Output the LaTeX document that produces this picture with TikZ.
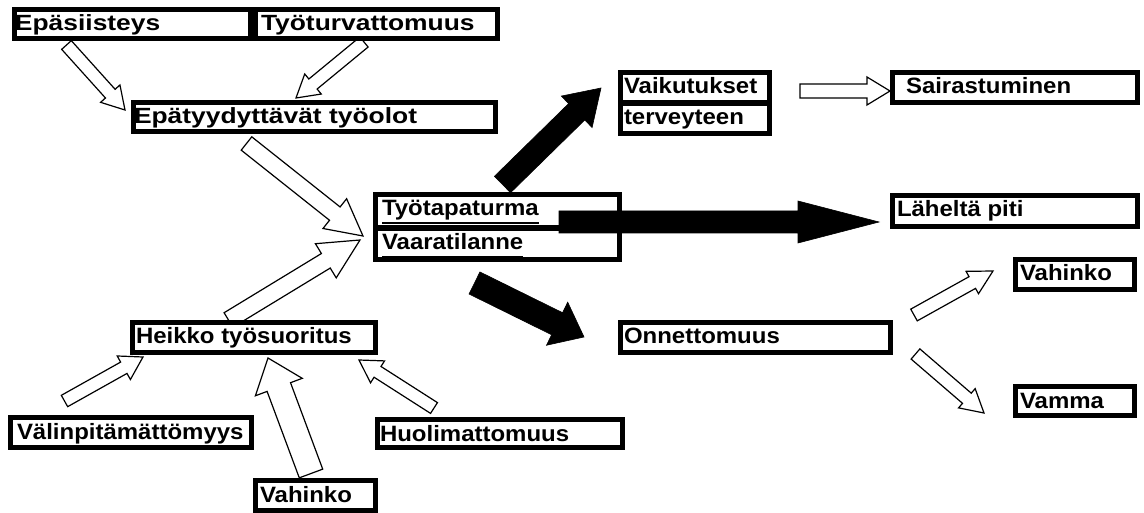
\documentclass[tikz,border=0pt]{standalone}
\usepackage{fontspec}
\setmainfont{Liberation Sans}
\newfontfamily\lblfont{Liberation Sans}[FakeStretch=1.08]
\newfontfamily\widefont{Liberation Sans}[FakeStretch=1.2]
\usetikzlibrary{calc}
\tikzset{
  box/.style={draw=black, fill=white, line width=5pt, inner sep=0pt, outer sep=0pt, anchor=north west},
  txt/.style={font=\lblfont\fontsize{22.2}{26}\selectfont\bfseries, inner sep=0pt, outer sep=0pt, anchor=base west},
  hollowarrow/.style={draw=black, fill=white, line width=1.2pt, line join=miter},
  fullarrow/.style={draw=black, fill=black, line width=0.6pt, line join=miter},
  ulline/.style={line width=2.5pt},
}
\newcommand\bigtxt{\widefont\fontsize{22}{26}\selectfont\bfseries}
% box: name, x1, y1, x2, y2, left pad, text
\newcommand\bx[7]{%
  \node[box, minimum width={#4-#2-5}, minimum height={#5-#3-5}] (#1) at ({#2+2.5},{#3+2.5}) {};
  \node[txt] (#1t) at ({#2+#6},{#3+24}) {#7};}
% block arrow: style, tail, tip, half shaft, half head, head length
\newcommand\barrow[6]{%
  \coordinate (bh) at ($(#3)!#6pt!(#2)$);
  \draw[#1] ($(#2)!#4pt!90:(#3)$) -- ($(bh)!#4pt!-90:(#2)$) -- ($(bh)!#5pt!-90:(#2)$)
    -- (#3) -- ($(bh)!#5pt!90:(#2)$) -- ($(bh)!#4pt!90:(#2)$) -- ($(#2)!#4pt!-90:(#3)$) -- cycle;}
\begin{document}
\begin{tikzpicture}[x=1pt,y=-1pt]
\useasboundingbox (0,0) rectangle (1144,513);
\fill[white] (0,0) rectangle (1144,513);

% arrow end points
\coordinate (a1s) at (66.5,45);   \coordinate (a1e) at (125,110);
\coordinate (a2s) at (364,42);    \coordinate (a2e) at (296,98);
\coordinate (a3s) at (246.5,143.5); \coordinate (a3e) at (363,236);
\coordinate (a4s) at (228.5,320); \coordinate (a4e) at (360,240);
\coordinate (a5s) at (64.5,401);  \coordinate (a5e) at (143,357);
\coordinate (a6s) at (311,473.5); \coordinate (a6e) at (268,358);
\coordinate (a7s) at (434,408);   \coordinate (a7e) at (359,360);
\coordinate (a8s) at (800,91);    \coordinate (a8e) at (890,91);
\coordinate (a9s) at (914,315);   \coordinate (a9e) at (993,271);
\coordinate (a10s) at (915.5,354); \coordinate (a10e) at (984,413);
\coordinate (bAs) at (502.5,184.5); \coordinate (bAe) at (601,88);
\coordinate (bBs) at (559,222);   \coordinate (bBe) at (879,222);
\coordinate (bCs) at (474.5,283); \coordinate (bCe) at (584,337);

% hollow arrows
\barrow{hollowarrow}{a1s}{a1e}{6.5}{13}{22}
\barrow{hollowarrow}{a2s}{a2e}{6.5}{13}{22}
\barrow{hollowarrow}{a3s}{a3e}{8.5}{19}{36}
\barrow{hollowarrow}{a4s}{a4e}{8.5}{20}{40}
\barrow{hollowarrow}{a5s}{a5e}{6.5}{13.5}{22}
\barrow{hollowarrow}{a6s}{a6e}{12.5}{25}{31}
\barrow{hollowarrow}{a7s}{a7e}{6.4}{13}{22}
\barrow{hollowarrow}{a8s}{a8e}{7}{14}{23}
\barrow{hollowarrow}{a9s}{a9e}{6.7}{12.8}{23.7}
\barrow{hollowarrow}{a10s}{a10e}{6.7}{12.7}{22.6}

% boxes
\bx{epa}{12}{7}{253}{41}{3}{\bigtxt Epäsiisteys}
\bx{turva}{253}{7}{500}{41}{8}{\bigtxt Työturvattomuus}
\bx{olot}{131}{100}{498}{134}{3}{\bigtxt Epätyydyttävät työolot}
\bx{tyo}{373}{192}{622}{230}{9}{Työtapaturma}
\bx{vaara}{373}{226}{622}{262}{9}{Vaaratilanne}
\bx{vaik}{618}{70}{772}{105}{6}{Vaikutukset}
\bx{terv}{618}{101}{772}{136}{6}{terveyteen}
\bx{sair}{890}{70}{1140}{105}{16}{Sairastuminen}
\bx{lahe}{890}{193}{1140}{229}{7}{Läheltä piti}
\bx{vahA}{1013}{257}{1137}{292}{7}{Vahinko}
\bx{onn}{618}{320}{893}{355}{6}{Onnettomuus}
\bx{vamma}{1013}{384}{1137}{418}{7}{Vamma}
\bx{heikko}{130}{320}{378}{355}{6}{Heikko työsuoritus}
\bx{valin}{8}{415}{254}{450}{9}{Välinpitämättömyys}
\bx{huoli}{375}{417}{625}{450}{5}{Huolimattomuus}
\bx{vahB}{253}{478}{378}{513}{7}{Vahinko}

% underlines
\draw[ulline] ($(tyot.base west)+(0,7)$) -- ($(tyot.base east)+(0,7)$);
\draw[ulline] ($(vaarat.base west)+(0,7)$) -- ($(vaarat.base east)+(0,7)$);

% black arrows
\barrow{fullarrow}{bAs}{bAe}{11.5}{22}{34}
\barrow{fullarrow}{bBs}{bBe}{11}{21}{81}
\barrow{fullarrow}{bCs}{bCe}{12.3}{24}{30}
\end{tikzpicture}
\end{document}
